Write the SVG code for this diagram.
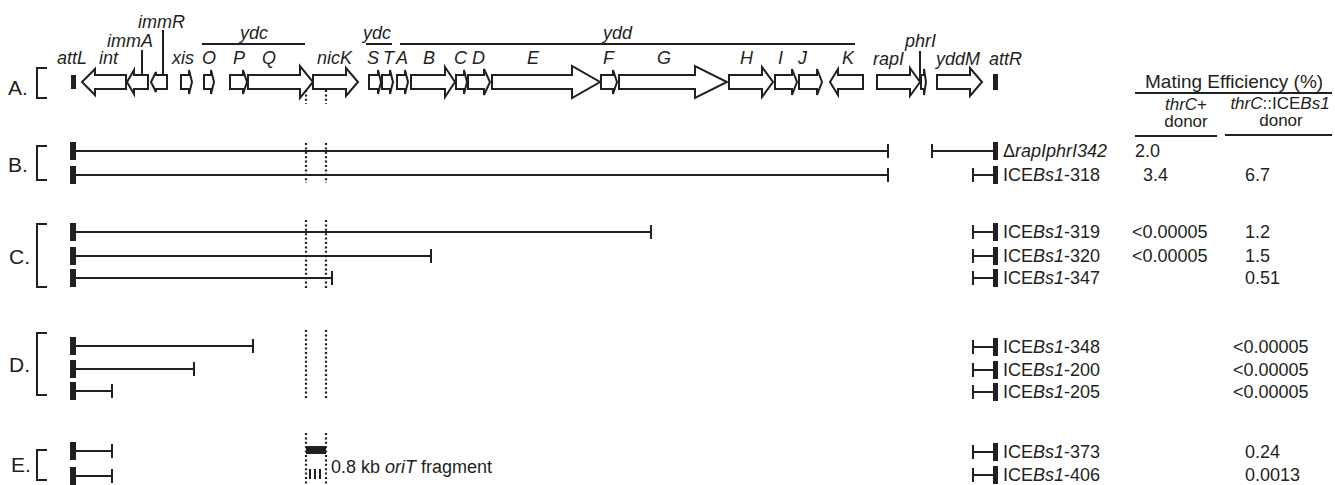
<svg xmlns="http://www.w3.org/2000/svg" width="1335" height="485" viewBox="0 0 1335 485">
<style>
text { font-family: "Liberation Sans", Arial, sans-serif; font-size: 18px; fill: #231f20; }
.it { font-style: italic; }
.sec { font-size: 21px; }
.hdr { font-size: 19px; }
.sub { font-size: 17px; }
.gene { fill: #fff; stroke: #231f20; stroke-width: 2; stroke-linejoin: miter; }
.ln { stroke: #231f20; stroke-width: 2; fill: none; }
.dot { stroke: #231f20; stroke-width: 2.2; stroke-dasharray: 2 2.4; fill: none; }
.bar { fill: #231f20; }
</style>

<!-- A: gene map of the element -->
<g id="map">
  <path class="ln" d="M47,68 H37 V98 H47"/>
  <text class="sec" x="8" y="95">A.</text>
  <rect class="bar" x="71" y="75" width="5" height="14"/>
  <rect class="bar" x="993" y="74" width="5" height="16"/>
  <polygon class="gene" points="126,75 95,75 95,69 82,82 95,95 95,89 126,89"/>
  <polygon class="gene" points="148,75 134,75 134,70 127,82 134,94 134,89 148,89"/>
  <polygon class="gene" points="167,75 156,75 156,72 151,82 156,92 156,89 167,89"/>
  <polygon class="gene" points="181,75 189,75 189,70 192,82 189,94 189,89 181,89"/>
  <polygon class="gene" points="204,75 211,75 211,70 214,82 211,94 211,89 204,89"/>
  <polygon class="gene" points="230,75 243,75 243,70 247,82 243,94 243,89 230,89"/>
  <polygon class="gene" points="248,75 300,75 300,66 313,82 300,98 300,89 248,89"/>
  <polygon class="gene" points="313,75 346,75 346,68 358,82 346,96 346,89 313,89"/>
  <polygon class="gene" points="369,75 378,75 378,70 381,82 378,94 378,89 369,89"/>
  <polygon class="gene" points="382,75 390,75 390,70 393,82 390,94 390,89 382,89"/>
  <polygon class="gene" points="397,75 405,75 405,70 408,82 405,94 405,89 397,89"/>
  <polygon class="gene" points="411,75 445,75 445,67 455,82 445,97 445,89 411,89"/>
  <polygon class="gene" points="456,75 464,75 464,70 467,82 464,94 464,89 456,89"/>
  <polygon class="gene" points="468,75 484,75 484,69 490,82 484,95 484,89 468,89"/>
  <polygon class="gene" points="492,75 572,75 572,66 600,82 572,98 572,89 492,89"/>
  <polygon class="gene" points="601,75 613,75 613,70 617,82 613,94 613,89 601,89"/>
  <polygon class="gene" points="619,75 695,75 695,66 727,82 695,98 695,89 619,89"/>
  <polygon class="gene" points="729,75 762,75 762,67 773,82 762,97 762,89 729,89"/>
  <polygon class="gene" points="775,75 792,75 792,69 797,82 792,95 792,89 775,89"/>
  <polygon class="gene" points="799,75 817,75 817,69 822,82 817,95 817,89 799,89"/>
  <polygon class="gene" points="863,75 838,75 838,69 830,82 838,95 838,89 863,89"/>
  <polygon class="gene" points="877,75 910,75 910,68 920,82 910,96 910,89 877,89"/>
  <polygon class="gene" points="921,75 924,75 924,69 926,82 924,95 924,89 921,89"/>
  <polygon class="gene" points="937,75 970,75 970,68 982,82 970,96 970,89 937,89"/>
  <!-- label leaders and operon bars -->
  <path class="ln" d="M142,50 V74 M163,30 V74 M920,51 V84"/>
  <path class="ln" d="M202,44 H305 M366,44 H392 M400,44 H855"/>
  <g class="it">
    <text x="57" y="64">attL</text>
    <text x="99" y="64">int</text>
    <text x="107" y="47">immA</text>
    <text x="138" y="28">immR</text>
    <text x="172" y="64">xis</text>
    <text x="202" y="64">O</text>
    <text x="233" y="64">P</text>
    <text x="262" y="64">Q</text>
    <text x="240" y="39">ydc</text>
    <text x="317" y="64">nicK</text>
    <text x="363" y="39">ydc</text>
    <text x="367" y="64">S</text>
    <text x="383" y="64">T</text>
    <text x="396" y="64">A</text>
    <text x="423" y="64">B</text>
    <text x="454" y="64">C</text>
    <text x="472" y="64">D</text>
    <text x="527" y="64">E</text>
    <text x="603" y="64">F</text>
    <text x="657" y="64">G</text>
    <text x="603" y="39">ydd</text>
    <text x="740" y="64">H</text>
    <text x="778" y="64">I</text>
    <text x="798" y="64">J</text>
    <text x="842" y="64">K</text>
    <text x="873" y="65">rapI</text>
    <text x="905" y="47">phrI</text>
    <text x="936" y="65">yddM</text>
    <text x="989" y="65">attR</text>
  </g>
</g>

<!-- oriT boundaries -->
<g id="oriT">
  <path class="dot" d="M306,90 V104 M326,90 V104"/>
  <path class="dot" d="M306,143 V183 M326,143 V183"/>
  <path class="dot" d="M306,220 V290 M326,220 V290"/>
  <path class="dot" d="M306,330 V400 M326,330 V400"/>
  <path class="dot" d="M306,433 V485 M326,433 V485"/>
  <rect class="bar" x="306" y="446" width="20" height="8"/>
  <path class="ln" d="M310,469 V479 M315,469 V479 M320,469 V479"/>
  <text x="331" y="473">0.8 kb <tspan class="it">oriT</tspan> fragment</text>
</g>

<!-- efficiency table header -->
<g id="header">
  <text class="hdr" x="1145" y="88">Mating Efficiency (%)</text>
  <path class="ln" d="M1135,93 H1332"/>
  <text class="sub" x="1186" y="110" text-anchor="middle"><tspan class="it">thrC</tspan>+</text>
  <text class="sub" x="1186" y="127" text-anchor="middle">donor</text>
  <path class="ln" d="M1135,136 H1217"/>
  <text class="sub" x="1280" y="109" text-anchor="middle"><tspan class="it">thrC</tspan>::ICE<tspan class="it">Bs1</tspan></text>
  <text class="sub" x="1281" y="126" text-anchor="middle">donor</text>
  <path class="ln" d="M1225,135 H1332"/>
</g>

<!-- B -->
<g id="sectionB">
  <path class="ln" d="M47,146 H37 V180 H47"/>
  <text class="sec" x="8" y="172">B.</text>
  <rect class="bar" x="70" y="142" width="6" height="18"/>
  <path class="ln" d="M76,151 H888 M888,144 V158"/>
  <rect class="bar" x="70" y="166" width="6" height="18"/>
  <path class="ln" d="M76,175 H888 M888,168 V182"/>
  <path class="ln" d="M932,151 H993 M932,144 V158"/>
  <rect class="bar" x="993" y="142" width="5" height="18"/>
  <text x="1003" y="157"><tspan>Δ</tspan><tspan class="it">rapIphrI342</tspan></text>
  <text x="1135" y="157">2.0</text>
  <path class="ln" d="M973,175 H993 M973,168 V182"/>
  <rect class="bar" x="993" y="166" width="5" height="18"/>
  <text x="1003" y="181">ICE<tspan class="it">Bs1</tspan>-318</text>
  <text x="1143" y="181">3.4</text>
  <text x="1245" y="181">6.7</text>
</g>

<!-- C -->
<g id="sectionC">
  <path class="ln" d="M47,224 H37 V287 H47"/>
  <text class="sec" x="9" y="264">C.</text>
  <rect class="bar" x="70" y="223" width="6" height="18"/>
  <path class="ln" d="M76,232 H651 M651,225 V239"/>
  <rect class="bar" x="70" y="247" width="6" height="18"/>
  <path class="ln" d="M76,256 H431 M431,249 V263"/>
  <rect class="bar" x="70" y="269" width="6" height="18"/>
  <path class="ln" d="M76,278 H332 M332,271 V285"/>
  <path class="ln" d="M973,232 H993 M973,225 V239"/>
  <rect class="bar" x="993" y="223" width="5" height="18"/>
  <text x="1003" y="238">ICE<tspan class="it">Bs1</tspan>-319</text>
  <text x="1132" y="238">&lt;0.00005</text>
  <text x="1245" y="238">1.2</text>
  <path class="ln" d="M973,256 H993 M973,249 V263"/>
  <rect class="bar" x="993" y="247" width="5" height="18"/>
  <text x="1003" y="262">ICE<tspan class="it">Bs1</tspan>-320</text>
  <text x="1132" y="262">&lt;0.00005</text>
  <text x="1245" y="262">1.5</text>
  <path class="ln" d="M973,278 H993 M973,271 V285"/>
  <rect class="bar" x="993" y="269" width="5" height="18"/>
  <text x="1003" y="284">ICE<tspan class="it">Bs1</tspan>-347</text>
  <text x="1245" y="284">0.51</text>
</g>

<!-- D -->
<g id="sectionD">
  <path class="ln" d="M47,333 H37 V395 H47"/>
  <text class="sec" x="9" y="372">D.</text>
  <rect class="bar" x="70" y="337" width="6" height="18"/>
  <path class="ln" d="M76,346 H253 M253,339 V353"/>
  <rect class="bar" x="70" y="360" width="6" height="18"/>
  <path class="ln" d="M76,369 H194 M194,362 V376"/>
  <rect class="bar" x="70" y="382" width="6" height="18"/>
  <path class="ln" d="M76,391 H112 M112,384 V398"/>
  <path class="ln" d="M973,347 H993 M973,340 V354"/>
  <rect class="bar" x="993" y="338" width="5" height="18"/>
  <text x="1003" y="353">ICE<tspan class="it">Bs1</tspan>-348</text>
  <text x="1233" y="353">&lt;0.00005</text>
  <path class="ln" d="M973,370 H993 M973,363 V377"/>
  <rect class="bar" x="993" y="361" width="5" height="18"/>
  <text x="1003" y="376">ICE<tspan class="it">Bs1</tspan>-200</text>
  <text x="1233" y="376">&lt;0.00005</text>
  <path class="ln" d="M973,392 H993 M973,385 V399"/>
  <rect class="bar" x="993" y="383" width="5" height="18"/>
  <text x="1003" y="398">ICE<tspan class="it">Bs1</tspan>-205</text>
  <text x="1233" y="398">&lt;0.00005</text>
</g>

<!-- E -->
<g id="sectionE">
  <path class="ln" d="M47,450 H37 V480 H47"/>
  <text class="sec" x="11" y="472">E.</text>
  <rect class="bar" x="70" y="442" width="6" height="18"/>
  <path class="ln" d="M76,451 H112 M112,444 V458"/>
  <rect class="bar" x="70" y="467" width="6" height="18"/>
  <path class="ln" d="M76,476 H112 M112,469 V483"/>
  <path class="ln" d="M973,452 H993 M973,445 V459"/>
  <rect class="bar" x="993" y="443" width="5" height="18"/>
  <text x="1003" y="458">ICE<tspan class="it">Bs1</tspan>-373</text>
  <text x="1245" y="458">0.24</text>
  <path class="ln" d="M973,475 H993 M973,468 V482"/>
  <rect class="bar" x="993" y="466" width="5" height="18"/>
  <text x="1003" y="481">ICE<tspan class="it">Bs1</tspan>-406</text>
  <text x="1245" y="481">0.0013</text>
</g>
</svg>
